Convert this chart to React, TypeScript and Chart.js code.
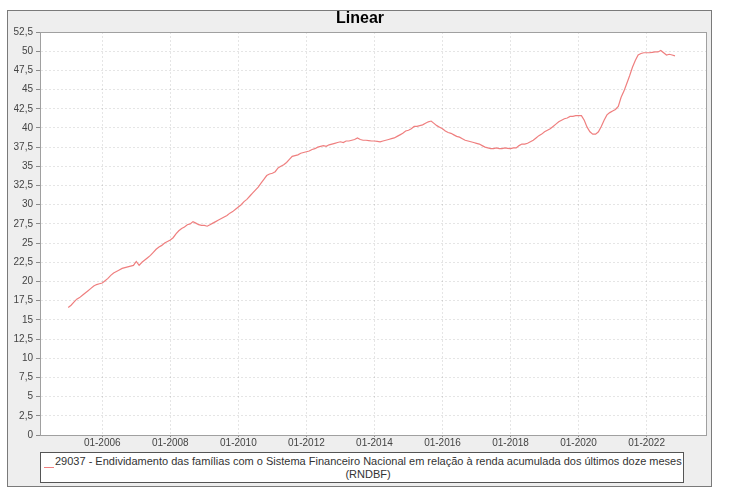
import { useEffect, useRef } from "react";
import { Chart, registerables } from "chart.js";

Chart.register(...registerables);

const chartTitle = "Linear";
const seriesCode = "29037 - Endividamento das famílias com o Sistema Financeiro Nacional em relação à renda acumulada dos últimos doze meses";
const seriesSuffix = "(RNDBF)";

const firstYear = 2005;
// monthly values, Jan..Dec of each year
const v2005 = [16.6, 16.9, 17.3, 17.7, 17.9, 18.2, 18.5, 18.8, 19.1, 19.4, 19.6, 19.7];
const v2006 = [19.8, 20.1, 20.4, 20.8, 21.1, 21.3, 21.5, 21.7, 21.8, 21.9, 22.0, 22.1];
const v2007 = [22.6, 22.1, 22.5, 22.8, 23.1, 23.4, 23.8, 24.2, 24.5, 24.7, 25.0, 25.2];
const v2008 = [25.4, 25.7, 26.2, 26.6, 26.9, 27.1, 27.4, 27.5, 27.8, 27.6, 27.4, 27.3];
const v2009 = [27.3, 27.2, 27.4, 27.6, 27.8, 28.0, 28.2, 28.4, 28.6, 28.9, 29.1, 29.4];
const v2010 = [29.7, 30.0, 30.4, 30.7, 31.1, 31.5, 31.9, 32.3, 32.8, 33.3, 33.8, 34.0];
const v2011 = [34.1, 34.3, 34.8, 35.0, 35.2, 35.5, 35.9, 36.3, 36.4, 36.5, 36.7, 36.8];
const v2012 = [36.9, 37.0, 37.2, 37.3, 37.5, 37.6, 37.7, 37.6, 37.8, 37.9, 38.0, 38.1];
const v2013 = [38.2, 38.1, 38.3, 38.3, 38.4, 38.5, 38.7, 38.5, 38.4, 38.4, 38.35, 38.3];
const v2014 = [38.3, 38.25, 38.2, 38.3, 38.4, 38.5, 38.6, 38.7, 38.9, 39.1, 39.3, 39.6];
const v2015 = [39.7, 39.9, 40.2, 40.2, 40.3, 40.4, 40.6, 40.8, 40.9, 40.6, 40.3, 40.1];
const v2016 = [39.9, 39.6, 39.4, 39.3, 39.1, 38.9, 38.8, 38.6, 38.4, 38.3, 38.2, 38.1];
const v2017 = [38.0, 37.9, 37.7, 37.5, 37.4, 37.3, 37.3, 37.4, 37.3, 37.3, 37.4, 37.35];
const v2018 = [37.3, 37.4, 37.4, 37.7, 37.9, 37.9, 38.0, 38.2, 38.4, 38.7, 39.0, 39.2];
const v2019 = [39.5, 39.7, 39.9, 40.2, 40.5, 40.8, 41.0, 41.2, 41.3, 41.5, 41.5, 41.6];
const v2020 = [41.6, 41.6, 41.0, 40.1, 39.5, 39.2, 39.2, 39.5, 40.2, 41.0, 41.7, 42.0];
const v2021 = [42.2, 42.4, 42.8, 44.0, 44.8, 45.8, 46.8, 47.9, 48.8, 49.5, 49.7, 49.8];
const v2022 = [49.8, 49.8, 49.85, 49.9, 49.9, 50.1, 49.8, 49.5, 49.6, 49.5, 49.4];

const yearlyValues = [v2005, v2006, v2007, v2008, v2009, v2010, v2011, v2012, v2013, v2014, v2015, v2016, v2017, v2018, v2019, v2020, v2021, v2022];

const xTickYears = [2006, 2008, 2010, 2012, 2014, 2016, 2018, 2020, 2022];
const xTickLabels = ["01-2006", "01-2008", "01-2010", "01-2012", "01-2014", "01-2016", "01-2018", "01-2020", "01-2022"];
const yTickValues = [0, 2.5, 5, 7.5, 10, 12.5, 15, 17.5, 20, 22.5, 25, 27.5, 30, 32.5, 35, 37.5, 40, 42.5, 45, 47.5, 50, 52.5];
const yTickLabels = ["0", "2,5", "5", "7,5", "10", "12,5", "15", "17,5", "20", "22,5", "25", "27,5", "30", "32,5", "35", "37,5", "40", "42,5", "45", "47,5", "50", "52,5"];

const xMin = 2004.17;
const xMax = 2023.745;

const FONT = "'Liberation Sans', Arial, sans-serif";
const LINE_COLOR = "#ef7f7f";

const panelPlugin = {
  id: "panelPlugin",
  beforeDraw(chart: any) {
    const { ctx, chartArea } = chart;
    ctx.save();
    ctx.fillStyle = "#ffffff";
    ctx.fillRect(0, 0, chart.width, chart.height);
    ctx.fillStyle = "#eeeeee";
    ctx.fillRect(7, 10, 705, 477);
    ctx.strokeStyle = "#7a7a7a";
    ctx.lineWidth = 1;
    ctx.strokeRect(7.5, 10.5, 704, 476);
    ctx.fillStyle = "#ffffff";
    ctx.fillRect(chartArea.left, chartArea.top, chartArea.right - chartArea.left, chartArea.bottom - chartArea.top);
    ctx.restore();
  },
  beforeDatasetsDraw(chart: any) {
    const { ctx, chartArea } = chart;
    ctx.save();
    ctx.strokeStyle = "#a0a0a0";
    ctx.lineWidth = 1;
    ctx.strokeRect(Math.round(chartArea.left) + 0.5, Math.round(chartArea.top) + 0.5, Math.round(chartArea.right - chartArea.left), Math.round(chartArea.bottom - chartArea.top));
    ctx.restore();
  },
};

export default function App() {
  const canvasRef = useRef<HTMLCanvasElement | null>(null);

  useEffect(() => {
    const canvas = canvasRef.current;
    if (!canvas) return;
    const points: { x: number; y: number }[] = [];
    yearlyValues.forEach((vals, yi) => {
      vals.forEach((v, m) => {
        points.push({ x: firstYear + yi + m / 12, y: v });
      });
    });

    const chart = new Chart(canvas, {
      type: "line",
      data: {
        datasets: [
          {
            label: seriesCode + " " + seriesSuffix,
            data: points,
            borderColor: LINE_COLOR,
            borderWidth: 1.2,
            pointRadius: 0,
            tension: 0,
            fill: false,
          },
        ],
      },
      options: {
        responsive: false,
        animation: false,
        devicePixelRatio: 1,
        layout: { padding: { left: 14, right: 44, top: 0, bottom: 35 } },
        plugins: {
          legend: { display: false },
          tooltip: { enabled: false },
          title: {
            display: true,
            text: chartTitle,
            color: "#000000",
            font: { family: FONT, size: 16, weight: "bold" },
            padding: { top: 9, bottom: 3.8 },
          },
        },
        scales: {
          x: {
            type: "linear",
            min: xMin,
            max: xMax,
            afterBuildTicks: (scale: any) => {
              scale.ticks = xTickYears.map((v) => ({ value: v }));
            },
            afterFit: (scale: any) => {
              scale.height = 22;
            },
            ticks: {
              autoSkip: false,
              maxRotation: 0,
              padding: 0,
              color: "#444444",
              font: { family: FONT, size: 10 },
              callback: (_v: any, i: number) => xTickLabels[i],
            },
            grid: {
              color: "rgba(0,0,0,0.1)",
              tickColor: "#8a8a8a",
              tickLength: 2,
              tickBorderDash: [],
              lineWidth: 1,
            },
            border: { color: "#8a8a8a", dash: [2, 2] },
          },
          y: {
            type: "linear",
            min: 0,
            max: 52.5,
            afterBuildTicks: (scale: any) => {
              scale.ticks = yTickValues.map((v) => ({ value: v }));
            },
            afterFit: (scale: any) => {
              scale.width = 26;
            },
            ticks: {
              autoSkip: false,
              padding: 3,
              color: "#444444",
              font: { family: FONT, size: 10 },
              callback: (_v: any, i: number) => yTickLabels[i],
            },
            grid: {
              color: "rgba(0,0,0,0.1)",
              tickColor: "#8a8a8a",
              tickLength: 4,
              tickBorderDash: [],
              lineWidth: 1,
            },
            border: { color: "#8a8a8a", dash: [2, 2] },
          },
        },
      },
      plugins: [panelPlugin],
    } as any);

    return () => {
      chart.destroy();
    };
  }, []);

  return (
    <div style={{ position: "absolute", left: 0, top: 0, width: 750, height: 492, background: "#ffffff" }}>
      <canvas ref={canvasRef} width={750} height={492} style={{ position: "absolute", left: 0, top: 0, width: 750, height: 492 }} />
      <div
        style={{
          position: "absolute",
          left: 40,
          top: 452,
          width: 644,
          height: 31,
          boxSizing: "border-box",
          border: "1px solid #555555",
          background: "#ffffff",
          fontFamily: FONT,
          fontSize: 11,
          color: "#333333",
        }}
      >
        <div style={{ position: "absolute", left: 3, top: 14, width: 10, height: 1, background: LINE_COLOR }} />
        <div style={{ position: "absolute", left: 14, right: 2, top: 2, lineHeight: "13px", textAlign: "center", whiteSpace: "nowrap" }}>
          {seriesCode}
          <br />
          {seriesSuffix}
        </div>
      </div>
    </div>
  );
}
